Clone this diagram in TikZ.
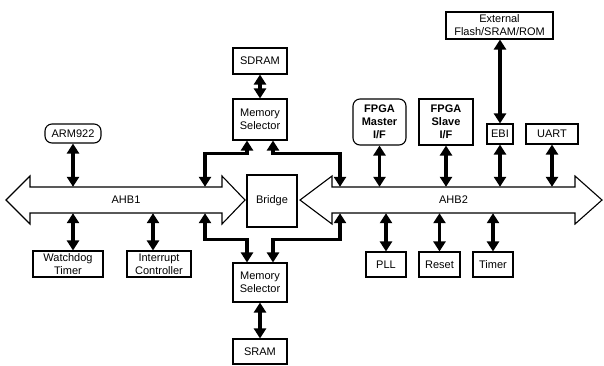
\documentclass[tikz,border=0pt]{standalone}
\usepackage{fontspec}
\setmainfont{Liberation Sans}
\usetikzlibrary{arrows.meta}
\begin{document}
\begin{tikzpicture}[x=1pt,y=-1pt,
  box/.style={draw, line width=1.1pt, inner sep=0pt, align=center,
    font=\fontsize{11}{13}\selectfont},
  rbox/.style={box, rounded corners=7pt},
  link/.style={line width=3.8pt,
    {Triangle[length=10pt,width=12pt]}-{Triangle[length=10pt,width=12pt]}},
  bus/.style={draw, line width=1.1pt, fill=white},
  buslabel/.style={inner sep=0pt, minimum height=26pt, font=\fontsize{11}{13}\selectfont},
]
\useasboundingbox (0,0) rectangle (604,365);

% buses
\draw[bus] (6,200) -- (30,176) -- (30,187) -- (222,187) -- (222,176) -- (245,200)
  -- (222,224) -- (222,213) -- (30,213) -- (30,224) -- cycle;
\node[buslabel, minimum width=192pt] (ahb1) at (126,200) {AHB1};
\draw[bus] (300,200) -- (332,176) -- (332,187) -- (575,187) -- (575,176) -- (602,200)
  -- (575,224) -- (575,213) -- (332,213) -- (332,224) -- cycle;
\node[buslabel, minimum width=243pt] (ahb2) at (453.5,200) {AHB2};

% nodes
\node[rbox, minimum width=56pt, minimum height=19pt] (arm) at (73,133.5) {ARM922};
\node[box, minimum width=70pt, minimum height=26pt] (wd) at (68,264) {Watchdog\\Timer};
\node[box, minimum width=64pt, minimum height=26pt] (irq) at (159,264) {Interrupt\\Controller};
\node[box, minimum width=50pt, minimum height=52pt] (bridge) at (272,201) {Bridge};
\node[box, minimum width=54pt, minimum height=26pt] (sdram) at (260,61) {SDRAM};
\node[box, minimum width=54pt, minimum height=41pt] (ms1) at (260,119.5) {Memory\\Selector};
\node[box, minimum width=54pt, minimum height=39pt] (ms2) at (260,282.5) {Memory\\Selector};
\node[box, minimum width=54pt, minimum height=25pt] (sram) at (260,351.5) {SRAM};
\node[rbox, minimum width=53pt, minimum height=46pt, font=\fontsize{11}{13}\selectfont\bfseries] (fm) at (379.5,122) {FPGA\\Master\\I/F};
\node[box, minimum width=54pt, minimum height=46pt, font=\fontsize{11}{13}\selectfont\bfseries] (fs) at (446,122) {FPGA\\Slave\\I/F};
\node[box, minimum width=26pt, minimum height=20pt] (ebi) at (500,134) {EBI};
\node[box, minimum width=52pt, minimum height=20pt] (uart) at (552,134) {UART};
\node[box, minimum width=107pt, minimum height=27pt] (ext) at (499.5,25.5) {External\\Flash/SRAM/ROM};
\node[box, minimum width=40pt, minimum height=25pt] (pll) at (386,264.5) {PLL};
\node[box, minimum width=41pt, minimum height=25pt] (rst) at (439.5,264.5) {Reset};
\node[box, minimum width=40pt, minimum height=25pt] (tmr) at (493,264.5) {Timer};

\coordinate (xl) at (205,0);
\coordinate (xr) at (340,0);

% connectors
\draw[link] (arm.south) -- (arm.south |- ahb1.north);
\draw[link] ([xshift=5pt]wd.north) -- ([xshift=5pt]wd.north |- ahb1.south);
\draw[link] ([xshift=-6pt]irq.north) -- ([xshift=-6pt]irq.north |- ahb1.south);

\draw[link] (sdram.south) -- (ms1.north);
\draw[link] (ms2.south) -- (sram.north);
\draw[link] ([xshift=-13pt]ms1.south) -- ++(0,13) -| (ahb1.north -| xl);
\draw[link] ([xshift=13pt]ms1.south) -- ++(0,13) -| (ahb2.north -| xr);
\draw[link] ([xshift=-13pt]ms2.north) -- ++(0,-23) -| (ahb1.south -| xl);
\draw[link] ([xshift=13pt]ms2.north) -- ++(0,-23) -| (ahb2.south -| xr);

\draw[link] (fm.south) -- (fm.south |- ahb2.north);
\draw[link] (fs.south) -- (fs.south |- ahb2.north);
\draw[link] (ebi.south) -- (ebi.south |- ahb2.north);
\draw[link] (uart.south) -- (uart.south |- ahb2.north);
\draw[link] (ebi.north |- ext.south) -- (ebi.north);

\draw[link] (pll.north) -- (pll.north |- ahb2.south);
\draw[link] (rst.north) -- (rst.north |- ahb2.south);
\draw[link] (tmr.north) -- (tmr.north |- ahb2.south);
\end{tikzpicture}
\end{document}
